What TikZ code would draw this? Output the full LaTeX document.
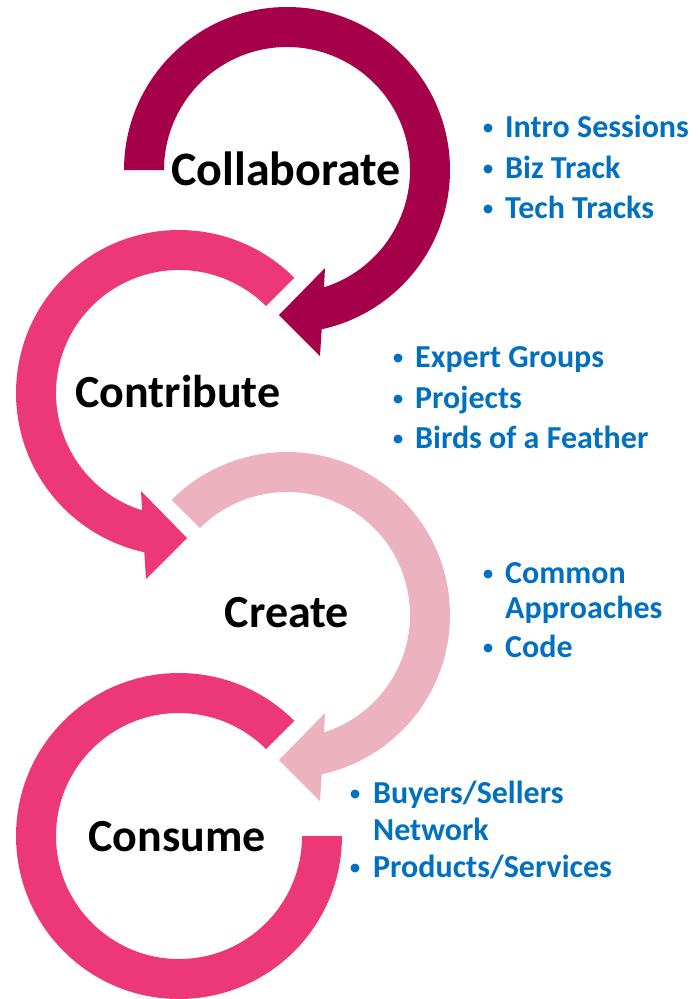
\documentclass[tikz,border=0pt]{standalone}
\usepackage{fontspec}
\setmainfont{Carlito}
\definecolor{ringA}{HTML}{A6004A}
\definecolor{ringB}{HTML}{EC3877}
\definecolor{ringC}{HTML}{EDB2C0}
\definecolor{itemblue}{HTML}{0070C0}
\begin{document}
\begin{tikzpicture}[x=1pt,y=1pt,
  lbl/.style={font=\bfseries\fontsize{46}{55}\selectfont, anchor=base, inner sep=0pt},
  item/.style={font=\bfseries\fontsize{32}{38}\selectfont, text=itemblue, anchor=base west, inner sep=0pt},
  dot/.style={circle, fill=itemblue, inner sep=0pt, minimum size=9pt}]
\useasboundingbox (0,0) rectangle (697,-999);
% ring 1 (clockwise, arrow)
\begin{scope}[shift={(287,-170)}]
\fill[ringA] (180:163) arc[start angle=180,end angle=-77.7,radius=163]
  -- (33,-186) -- (-8,-145) -- (38,-98) -- (-72.5:123)
  arc[start angle=-72.5,end angle=180,radius=123] -- cycle;
\end{scope}
% ring 2 (counter-clockwise, arrow)
\begin{scope}[shift={(179,-393)}]
\fill[ringB] (45:163) arc[start angle=45,end angle=257.7,radius=163]
  -- (-33,-186) -- (8,-145) -- (-38,-98) -- (252.5:123)
  arc[start angle=252.5,end angle=45,radius=123] -- cycle;
\end{scope}
% ring 3 (clockwise, arrow)
\begin{scope}[shift={(287,-615)}]
\fill[ringC] (135:163) arc[start angle=135,end angle=-77.7,radius=163]
  -- (33,-186) -- (-8,-145) -- (38,-98) -- (-72.5:123)
  arc[start angle=-72.5,end angle=135,radius=123] -- cycle;
\end{scope}
% ring 4 (open ring)
\begin{scope}[shift={(179,-836)}]
\fill[ringB] (45:163) arc[start angle=45,end angle=360,radius=163]
  -- (0:123) arc[start angle=360,end angle=45,radius=123] -- cycle;
\end{scope}
% labels
\node[lbl, font=\bfseries\fontsize{48}{57}\selectfont] (collab) at (286,-185) {Collaborate};
\node[lbl] (contrib) at (178,-407) {Contribute};
\node[lbl] (create) at (287,-627) {Create};
\node[lbl] (consume) at (177,-851) {Consume};
% list 1
\node[dot] (d11) at (488,-128) {};
\node[item] (t11) at (505,-137) {Intro Sessions};
\node[dot] (d12) at (488,-169) {};
\node[item] (t12) at (505,-178) {Biz Track};
\node[dot] (d13) at (488,-209) {};
\node[item] (t13) at (505,-218) {Tech Tracks};
% list 2
\node[dot] (d21) at (398,-358) {};
\node[item] (t21) at (415,-367) {Expert Groups};
\node[dot] (d22) at (398,-399) {};
\node[item] (t22) at (415,-408) {Projects};
\node[dot] (d23) at (398,-439) {};
\node[item] (t23) at (415,-448) {Birds of a Feather};
% list 3
\node[dot] (d31) at (488,-574) {};
\node[item] (t31) at (505,-583) {Common};
\node[item] (t31b) at (505,-618) {Approaches};
\node[dot] (d32) at (488,-648) {};
\node[item] (t32) at (505,-657) {Code};
% list 4
\node[dot] (d41) at (355,-794) {};
\node[item] (t41) at (373,-803) {Buyers/Sellers};
\node[item] (t41b) at (373,-840) {Network};
\node[dot] (d42) at (355,-868) {};
\node[item] (t42) at (373,-877) {Products/Services};
\end{tikzpicture}
\end{document}
